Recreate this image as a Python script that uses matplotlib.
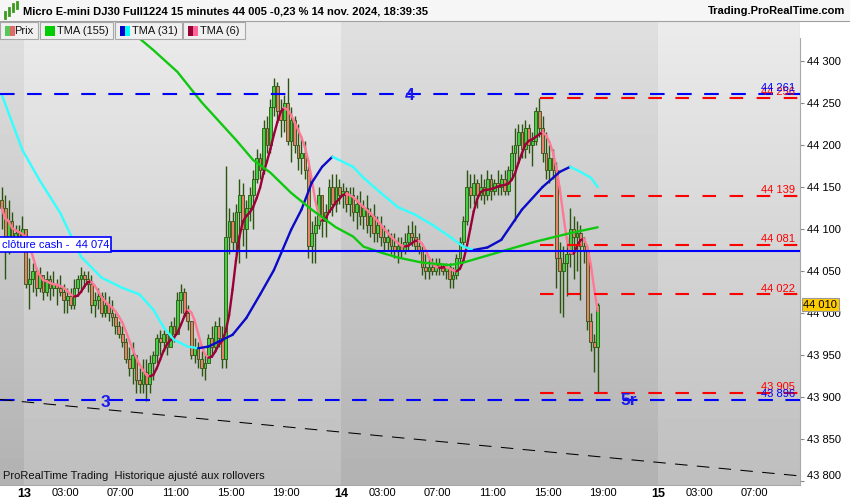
import numpy as np
import pandas as pd
import matplotlib
matplotlib.use("Agg")
import matplotlib.pyplot as plt
from matplotlib.patches import Rectangle
from matplotlib.collections import LineCollection
import matplotlib.transforms as mtransforms

plt.rcParams['font.family'] = ['Liberation Sans', 'DejaVu Sans']

# bougies 15 min, de 21:15 le 12 nov. jusqu'a 18:30 le 14 nov. (open = close precedente)
first_open = 44135
highs = [44150, 44140, 44135, 44120, 44105, 44105, 44115, 44095, 44065, 44060,
         44055, 44055, 44045, 44050, 44045, 44050, 44040, 44045, 44035, 44030,
         44030, 44040, 44045, 44055, 44050, 44050, 44045, 44025, 44030, 44025,
         44025, 44020, 44015, 44000, 43990, 43985, 43970, 43960, 43965, 43945,
         43935, 43945, 43945, 43950, 43955, 43975, 43980, 43980, 43975, 43990,
         43995, 44025, 44035, 44030, 44010, 43985, 43970, 43965, 43955, 43950,
         43975, 43985, 43990, 43995, 43985, 44175, 44125, 44120, 44130, 44160,
         44155, 44135, 44150, 44170, 44195, 44190, 44230, 44235, 44255, 44280,
         44275, 44255, 44260, 44280, 44245, 44235, 44225, 44210, 44205, 44175,
         44110, 44115, 44150, 44140, 44130, 44160, 44165, 44165, 44160, 44155,
         44150, 44150, 44150, 44140, 44145, 44135, 44140, 44125, 44130, 44115,
         44115, 44105, 44100, 44095, 44095, 44090, 44090, 44095, 44105, 44110,
         44105, 44095, 44080, 44070, 44065, 44065, 44065, 44065, 44060, 44060,
         44060, 44055, 44070, 44090, 44115, 44170, 44165, 44165, 44160, 44165,
         44160, 44170, 44165, 44160, 44170, 44165, 44170, 44175, 44200, 44220,
         44225, 44225, 44230, 44225, 44215, 44245, 44256, 44235, 44215, 44200,
         44195, 44180, 44085, 44080, 44090, 44125, 44115, 44110, 44105, 44090,
         44080, 44000, 43975, 44012]
lows = [44100, 44040, 44070, 44080, 44080, 44085, 44085, 44030, 44005, 44025,
        44020, 44025, 44015, 44020, 44015, 44020, 44010, 44020, 44000, 44000,
        44005, 44005, 44020, 44025, 44030, 44025, 44000, 43995, 44005, 43995,
        43995, 43990, 43985, 43975, 43970, 43960, 43940, 43925, 43915, 43905,
        43905, 43905, 43895, 43905, 43920, 43940, 43950, 43955, 43950, 43960,
        43965, 43975, 44000, 43995, 43980, 43945, 43940, 43935, 43925, 43920,
        43945, 43950, 43955, 43960, 43935, 43935, 44070, 44075, 44070, 44060,
        44080, 44065, 44110, 44100, 44155, 44160, 44165, 44190, 44190, 44235,
        44230, 44210, 44215, 44200, 44180, 44190, 44170, 44165, 44160, 44065,
        44060, 44060, 44100, 44090, 44090, 44120, 44115, 44120, 44130, 44125,
        44120, 44115, 44110, 44100, 44105, 44100, 44095, 44090, 44085, 44085,
        44080, 44075, 44075, 44070, 44065, 44060, 44065, 44070, 44075, 44080,
        44075, 44070, 44045, 44040, 44040, 44045, 44045, 44045, 44045, 44040,
        44030, 44030, 44040, 44060, 44080, 44105, 44125, 44130, 44125, 44135,
        44130, 44135, 44135, 44140, 44140, 44140, 44140, 44140, 44160, 44110,
        44180, 44185, 44185, 44190, 44175, 44200, 44210, 44180, 44160, 44155,
        44160, 44030, 44000, 43995, 44020, 44055, 44040, 44050, 44015, 44060,
        43980, 43955, 43930, 43905]
closes = [44125, 44075, 44110, 44090, 44095, 44090, 44100, 44035, 44040, 44050,
          44030, 44045, 44025, 44040, 44030, 44035, 44030, 44025, 44015, 44020,
          44010, 44030, 44040, 44045, 44040, 44035, 44010, 44015, 44020, 44000,
          44010, 44000, 43995, 43985, 43975, 43965, 43945, 43935, 43950, 43920,
          43915, 43930, 43915, 43940, 43950, 43970, 43965, 43975, 43960, 43985,
          43975, 44015, 44025, 44000, 43990, 43950, 43960, 43945, 43935, 43940,
          43970, 43960, 43985, 43970, 43945, 44090, 44110, 44085, 44120, 44140,
          44100, 44125, 44140, 44160, 44185, 44170, 44220, 44200, 44245, 44270,
          44240, 44230, 44250, 44205, 44230, 44200, 44185, 44190, 44170, 44080,
          44095, 44105, 44140, 44110, 44120, 44150, 44130, 44150, 44140, 44145,
          44130, 44140, 44120, 44130, 44115, 44125, 44105, 44115, 44095, 44105,
          44090, 44085, 44090, 44080, 44075, 44080, 44075, 44085, 44095, 44090,
          44080, 44075, 44055, 44050, 44055, 44050, 44060, 44055, 44050, 44055,
          44040, 44045, 44065, 44085, 44110, 44150, 44140, 44155, 44140, 44150,
          44140, 44160, 44145, 44155, 44150, 44160, 44145, 44170, 44190, 44200,
          44215, 44195, 44220, 44200, 44205, 44240, 44220, 44190, 44170, 44185,
          44170, 44065, 44050, 44060, 44070, 44100, 44090, 44095, 44080, 44075,
          43990, 43965, 43960, 44010]

# moyennes (barre, valeur)
tma31_bar = [0, 6, 11, 17, 23, 29, 35, 40, 44, 47, 50, 54, 57, 60, 63, 67, 71, 75, 79, 84,
             87, 90, 93, 96, 102, 105, 110, 115, 120, 125, 130, 134, 137, 141, 145, 151, 157,
             162, 165, 168, 171, 173]
tma31_val = [44260, 44194, 44158, 44119, 44067, 44042, 44030, 44022, 44004, 43983, 43968,
             43960, 43958, 43960, 43966, 43974, 43994, 44022, 44051, 44099, 44123, 44155,
             44174, 44186, 44174, 44161, 44143, 44126, 44117, 44105, 44091, 44079, 44075,
             44078, 44087, 44123, 44150, 44168, 44174, 44168, 44161, 44150]
tma155_bar = [35, 44, 51, 58, 68, 73, 78, 84, 90, 97, 102, 105, 110, 115, 122, 130, 134,
              139, 144, 149, 155, 165, 173]
tma155_val = [44344, 44313, 44287, 44251, 44206, 44182, 44167, 44143, 44123, 44102, 44091,
              44079, 44072, 44066, 44060, 44057, 44060, 44066, 44072, 44078, 44085, 44095,
              44102]

blue_levels = [44261, 43896]
blue_labels = ['44 261', '43 896']
cash_close = 44074
red_levels = [44256, 44139, 44081, 44022, 43905]
red_labels = ['44 256', '44 139', '44 081', '44 022', '43 905']
red_start = 156.75
trend_bars = [0, 232.2]
trend_vals = [43897, 43806]
last_price = 44010

# axe des temps : 4 barres par heure, pause 23:00-00:00
day_starts = [7, 99, 191]
tick_pos = [7, 19, 35, 51, 67, 83, 99, 111, 127, 143, 159, 175, 191, 203, 219]
tick_lab = ['13', '03:00', '07:00', '11:00', '15:00', '19:00', '14', '03:00', '07:00',
            '11:00', '15:00', '19:00', '15', '03:00', '07:00']

W, H = 850, 500
XMAX = 800 / 3.445
YTOP, YBOT = 44346.4, 43795.2

fig = plt.figure(figsize=(W / 100, H / 100), dpi=100)
ax = fig.add_axes([0, 15 / H, 800 / W, 463 / H])
ax.set_xlim(0, XMAX)
ax.set_ylim(YBOT, YTOP)

# fond degrade, bandes par jour
grad = np.linspace(0, 1, 100)[:, None]
bands = [(0, 7, 223, 178), (7, 99, 235, 190), (99, 191, 223, 178), (191, XMAX, 235, 190)]
for x0, x1, top, bot in bands:
    g = (top + (bot - top) * grad) / 255.0
    ax.imshow(g, cmap='gray', vmin=0, vmax=1, extent=(x0, x1, YBOT, YTOP),
              aspect='auto', origin='upper', zorder=0, interpolation='bilinear')

# bougies
closes = np.array(closes, float)
highs = np.array(highs, float)
lows = np.array(lows, float)
opens = np.r_[first_open, closes[:-1]]
xs = np.arange(len(closes)) + 0.5
up = closes >= opens
WICK = '#2b5410'
ax.vlines(xs, lows, highs, color=WICK, lw=1.0, zorder=3)
ax.bar(xs, np.maximum(np.abs(closes - opens), 1.5), bottom=np.minimum(opens, closes),
       width=0.8, color=np.where(up, '#44d044', '#e8806e'), edgecolor=WICK,
       linewidth=0.6, zorder=4)


def slope_line(x, y, c_up, c_down, lw):
    pts = np.column_stack([x, y])
    segs = np.stack([pts[:-1], pts[1:]], axis=1)
    cols = np.where(np.diff(y) >= 0, c_up, c_down)
    ax.add_collection(LineCollection(segs, colors=cols, linewidths=lw,
                                     capstyle='round', joinstyle='round', zorder=6))


# TMA(6) calculee sur les clotures
s = pd.Series(closes)
tma6 = s.rolling(4, min_periods=1).mean().rolling(3, min_periods=1).mean().to_numpy()
slope_line(xs, tma6, '#9c0038', '#ff7896', 1.7)
slope_line(np.array(tma31_bar) + 0.5, np.array(tma31_val, float), '#0a0ac8', '#33ffff', 1.7)
ax.plot(np.array(tma155_bar) + 0.5, tma155_val, color='#10c810', lw=1.7, zorder=6,
        solid_capstyle='round')

# niveaux
for lv in blue_levels:
    ax.axhline(lv, color='#0000ff', lw=1.5, dashes=(7, 6), zorder=7)
ax.axhline(cash_close, color='#0000ff', lw=1.5, zorder=7)
ax.hlines(red_levels, red_start, XMAX, color='#ff0000', lw=1.5,
          linestyles=(0, (6.5, 6.5)), zorder=7)
ax.plot(trend_bars, trend_vals, color='black', lw=0.75, dashes=(12, 9), zorder=7)

trans = mtransforms.blended_transform_factory(ax.transAxes, ax.transData)
for lv, lab in zip(red_levels, red_labels):
    ax.text(0.994, lv + 1, lab, transform=trans, ha='right', va='bottom', fontsize=8,
            color='#ff0000', zorder=8)
for lv, lab in zip(blue_levels, blue_labels):
    ax.text(0.994, lv + 1, lab, transform=trans, ha='right', va='bottom', fontsize=8,
            color='#0000ff', zorder=8)
ax.text(0.002, cash_close + 1.5, 'clôture cash -  44 074', transform=trans, ha='left',
        va='bottom', fontsize=8, color='#0000ff', zorder=9,
        bbox=dict(boxstyle='square,pad=0.2', fc='white', ec='#0000ff', lw=1.2))

ax.text(119, blue_levels[0] - 2, '4', ha='center', va='center', fontsize=12.5,
        fontweight='bold', color='#1a1aee', zorder=9)
ax.text(30.5, blue_levels[1] - 3, '3', ha='center', va='center', fontsize=12.5,
        fontweight='bold', color='#1a1aee', zorder=9)
ax.text(182.5, blue_levels[1], '5r', ha='center', va='center', fontsize=12.5,
        fontweight='bold', color='#1a1aee', zorder=9)

ax.text(0.004, 0.02, 'ProRealTime Trading  Historique ajusté aux rollovers',
        transform=ax.transAxes, fontsize=8, color='#111111', va='center', zorder=9)

# axes
for side in ['top', 'left']:
    ax.spines[side].set_visible(False)
ax.spines['right'].set_color('#a8a8a8')
ax.spines['bottom'].set_color('#a8a8a8')
yt = np.arange(43800, 44301, 50)
ax.set_yticks(yt)
ax.set_yticklabels([f'{v // 1000} {v % 1000:03d}' for v in yt])
ax.yaxis.tick_right()
ax.tick_params(axis='y', length=3, color='#888888', labelsize=8, pad=2)
ax.get_yticklabels()[0].set_va('bottom')
ax.set_xticks(tick_pos)
ax.set_xticklabels(tick_lab)
ax.tick_params(axis='x', length=0, labelsize=8, pad=2)
for t in ax.get_xticklabels():
    if len(t.get_text()) == 2:
        t.set_fontweight('bold')
        t.set_fontsize(9)

ax.text(1.004, last_price, '44 010', transform=trans, ha='left', va='center', fontsize=8,
        color='black', zorder=10, clip_on=False,
        bbox=dict(boxstyle='square,pad=0.15', fc='#ffcc00', ec='#999999', lw=0.8))


# bandeau haut
def fbox(x0, y0, x1, y1, z=2, **kw):
    fig.add_artist(Rectangle((x0 / W, 1 - y1 / H), (x1 - x0) / W, (y1 - y0) / H,
                             transform=fig.transFigure, zorder=z, **kw))


def ftext(x, y, s, z=3, **kw):
    fig.text(x / W, 1 - y / H, s, zorder=z, **kw)


fbox(0, 0, W, 21, fc='#f6f6f6', ec='none')
fig.add_artist(plt.Line2D([0, 1], [1 - 21 / H] * 2, color='#a0a0a0', lw=0.8,
                          transform=fig.transFigure, zorder=3))
fbox(800, 21, W, 38, fc='white', ec='none')
for (xa, ya, xb, yb) in [(5, 12, 5, 18), (9, 8, 9, 15), (13, 4, 13, 11), (17, 2, 17, 8)]:
    fig.add_artist(plt.Line2D([xa / W, xb / W], [1 - ya / H, 1 - yb / H], color='#3a9a20',
                              lw=2, transform=fig.transFigure, zorder=4))
ftext(23, 11, 'Micro E-mini DJ30 Full1224 15 minutes 44 005 -0,23 % 14 nov. 2024, 18:39:35',
      fontsize=8, fontweight='bold', va='center', ha='left')
ftext(845, 11, 'Trading.ProRealTime.com', fontsize=8, fontweight='bold', va='center',
      ha='right')

buttons = [(0, 38, 'Prix', ['#55c855', '#e06a6a']),
           (40, 113, 'TMA (155)', ['#00cc00']),
           (115, 182, 'TMA (31)', ['#0000cc', '#00ffff']),
           (183, 245, 'TMA (6)', ['#990033', '#ff6699'])]
for x0, x1, lab, cols in buttons:
    fbox(x0, 22, x1, 39, fc='#f0f0f0', ec='#a8a8a8', lw=0.8)
    ftext(x0 + 14 if lab == 'Prix' else x0 + 17, 31, lab, fontsize=8, va='center',
          ha='left', color='#111111')
    sw = 10 / len(cols)
    for k, c in enumerate(cols):
        fbox(x0 + 5 + k * sw, 26, x0 + 5 + (k + 1) * sw, 36, z=5, fc=c, ec='none')

fig.savefig('out.png', dpi=100)
